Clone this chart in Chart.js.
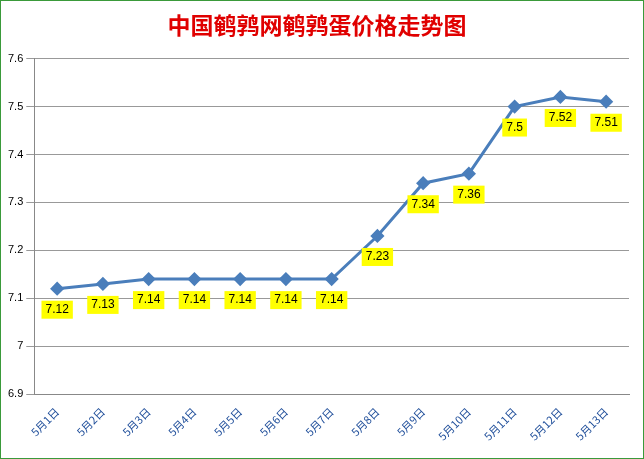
<!DOCTYPE html>
<html>
<head>
<meta charset="utf-8">
<script src="https://cdn.jsdelivr.net/npm/chart.js@4"></script>
<style>
  body { margin: 0; background: #fff; }
  #wrap { position: absolute; left: 0; top: 0; width: 642px; height: 457px; border: 1px solid #3a9a3a; }
</style>
</head>
<body>
<div id="wrap"><canvas id="c" width="642" height="457"></canvas></div>
<script>
const labels = ["5月1日", "5月2日", "5月3日", "5月4日", "5月5日", "5月6日", "5月7日",
  "5月8日", "5月9日", "5月10日", "5月11日", "5月12日", "5月13日"];
const prices = [7.12, 7.13, 7.14, 7.14, 7.14, 7.14, 7.14, 7.23, 7.34, 7.36, 7.5, 7.52, 7.51];

// 黄色数据标签
const labelPlugin = {
  id: "yellowLabels",
  afterDatasetsDraw(chart) {
    const ctx = chart.ctx;
    const meta = chart.getDatasetMeta(0);
    ctx.save();
    ctx.font = "12px 'Liberation Sans', Arial";
    ctx.textAlign = "center";
    ctx.textBaseline = "middle";
    meta.data.forEach((pt, i) => {
      const txt = String(prices[i]);
      const w = ctx.measureText(txt).width + 8;
      const h = 18;
      const cy = pt.y + 21;
      ctx.fillStyle = "#ffff00";
      ctx.fillRect(pt.x - w / 2, cy - h / 2, w, h);
      ctx.fillStyle = "#000";
      ctx.fillText(txt, pt.x, cy);
    });
    ctx.restore();
  }
};

new Chart(document.getElementById("c"), {
  type: "line",
  data: {
    labels: labels,
    datasets: [{
      data: prices,
      borderColor: "#4a7ebb",
      backgroundColor: "#4a7ebb",
      borderWidth: 3,
      pointStyle: "rectRot",
      pointRadius: 5,
      tension: 0,
    }],
  },
  options: {
    responsive: false,
    animation: false,
    layout: { padding: { left: 4, right: 14, top: 6, bottom: 12 } },
    plugins: {
      legend: { display: false },
      tooltip: { enabled: false },
      title: {
        display: true,
        text: "中国鹌鹑网鹌鹑蛋价格走势图",
        color: "#e00000",
        font: { size: 23, weight: "bold", family: "'Noto Sans CJK SC'" },
        padding: { top: 4, bottom: 20 },
      },
    },
    scales: {
      x: {
        offset: true,
        grid: { display: false },
        border: { color: "#888" },
        ticks: {
          color: "#1f4e9a",
          font: { size: 11, family: "'Noto Sans CJK SC'" },
          maxRotation: 45,
          minRotation: 45,
        },
      },
      y: {
        min: 6.9,
        max: 7.6,
        grid: { color: "#999", drawTicks: true },
        border: { color: "#888" },
        ticks: {
          stepSize: 0.1,
          color: "#000",
          font: { size: 11, family: "'Liberation Sans', Arial" },
          callback: (v) => String(Math.round(v * 10) / 10),
        },
      },
    },
  },
  plugins: [labelPlugin],
});
</script>
</body>
</html>
